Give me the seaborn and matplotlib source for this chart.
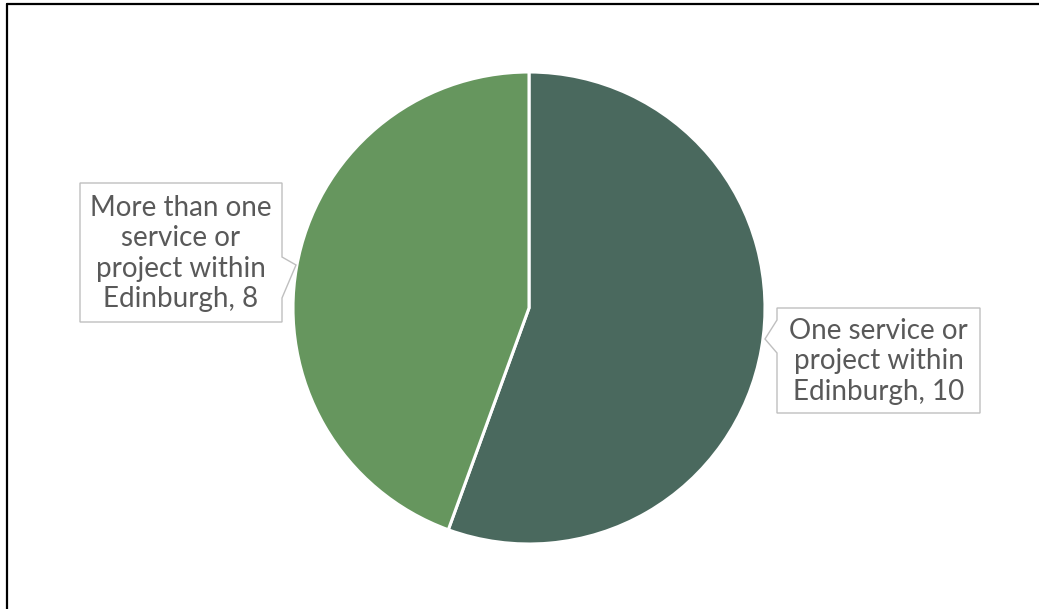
import matplotlib
matplotlib.use("Agg")
import matplotlib.pyplot as plt
from matplotlib.patches import Polygon
from matplotlib.lines import Line2D
import seaborn as sns

# data
categories = ["One service or\nproject within\nEdinburgh", "More than one\nservice or\nproject within\nEdinburgh"]
counts = [10, 8]
colors = ["#4A695E", "#66965E"]

sns.set_theme(style="white")
plt.rcParams['font.family'] = ['Lato', 'DejaVu Sans']

W, H = 1039, 609
R = 236.0          # pie radius in pixels
cx, cy = 529, 308  # pie centre in pixels (from top-left)

fig = plt.figure(figsize=(W / 100, H / 100), dpi=100)
ax = fig.add_axes([0, 0, 1, 1])

ax.pie(counts, colors=colors, startangle=90, counterclock=False, radius=1,
       wedgeprops=dict(edgecolor="white", linewidth=2.2))

# pie() resets limits, so set them afterwards
ax.set_xlim(-cx / R, (W - cx) / R)
ax.set_ylim(-(H - cy) / R, cy / R)
ax.set_aspect("equal")
ax.axis("off")


def px(x, y):
    # pixel position (from top-left) -> data coords
    return ((x - cx) / R, (cy - y) / R)


def callout(text, left, top, right, bottom, side, n1, tip, n2):
    if side == "right":
        pts = [(left, top), (right, top), (right, n1), tip, (right, n2), (right, bottom), (left, bottom)]
    else:
        pts = [(left, top), (right, top), (right, bottom), (left, bottom), (left, n2), tip, (left, n1)]
    poly = Polygon([px(*p) for p in pts], closed=True, facecolor="white",
                   edgecolor="#BFBFBF", linewidth=1.0, zorder=5, clip_on=False)
    ax.add_patch(poly)
    tx, ty = px((left + right) / 2, (top + bottom) / 2 + 1)
    ax.text(tx, ty, text, ha="center", va="center", fontsize=20,
            color="#595959", linespacing=1.2, zorder=6)


callout(f"{categories[1]}, {counts[1]}", 80, 183, 282, 322, "right", 257, (296, 265), 298)
callout(f"{categories[0]}, {counts[0]}", 777, 308, 980, 413, "left", 320, (765, 339), 353)

# frame lines on top and left
fig.add_artist(Line2D([6.5 / W, 1], [1 - 3.5 / H, 1 - 3.5 / H], transform=fig.transFigure,
                      color="black", linewidth=1.6))
fig.add_artist(Line2D([6.5 / W, 6.5 / W], [0, 1 - 3.5 / H], transform=fig.transFigure,
                      color="black", linewidth=1.6))

fig.savefig("out.png", dpi=100)
